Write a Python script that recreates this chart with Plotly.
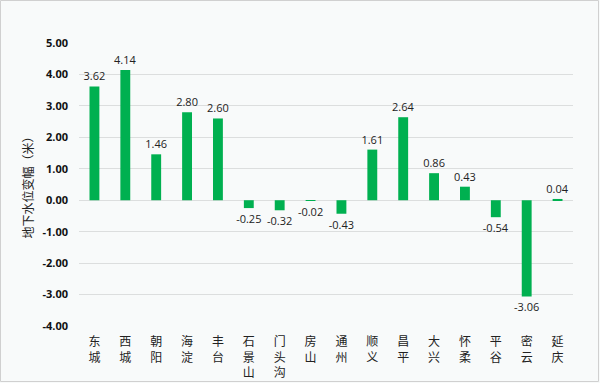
import plotly.graph_objects as go

districts = ["东城", "西城", "朝阳", "海淀", "丰台", "石景山", "门头沟", "房山", "通州",
             "顺义", "昌平", "大兴", "怀柔", "平谷", "密云", "延庆"]
values = [3.62, 4.14, 1.46, 2.80, 2.60, -0.25, -0.32, -0.02, -0.43,
          1.61, 2.64, 0.86, 0.43, -0.54, -3.06, 0.04]
y_ticks = [5, 4, 3, 2, 1, 0, -1, -2, -3, -4]

vertical = ["<br>".join(list(d)) for d in districts]

fig = go.Figure(go.Bar(
    x=vertical, y=values,
    marker=dict(color="#00b050", line=dict(width=0)),
    width=0.32,
    text=[f"{v:.2f}" for v in values],
    textposition="outside",
    constraintext="none",
    textfont=dict(family="Open Sans", size=11, color="#222"),
    cliponaxis=False,
))

fig.update_layout(
    width=600, height=383,
    margin=dict(l=79, r=27, t=43, b=57),
    paper_bgcolor="#f8fafa",
    plot_bgcolor="#f8fafa",
    showlegend=False,
    xaxis=dict(
        automargin=False,
        tickfont=dict(family="Noto Sans CJK SC", size=12, color="#222"),
        showgrid=False, zeroline=False, showline=False,
        ticks="", ticklabelstandoff=7,
    ),
    yaxis=dict(
        automargin=False,
        range=[-4, 5],
        tickvals=y_ticks,
        ticktext=[f"<b>{v:.2f}</b>" for v in y_ticks],
        tickfont=dict(family="Open Sans", size=11, color="#111"),
        showgrid=True, gridcolor="#dcdede", gridwidth=1,
        zeroline=True, zerolinecolor="#dcdede", zerolinewidth=1,
        ticks="", ticklabelstandoff=10,
        title=dict(text="地下水位变幅（米）",
                   font=dict(family="Noto Sans CJK SC", size=12, color="#222"),
                   standoff=6),
    ),
    shapes=[dict(type="rect", xref="paper", yref="paper",
                 x0=-78.5/494, x1=1+25.5/494, y0=-55.5/283, y1=1+42.5/283,
                 line=dict(color="#d0d0d0", width=1))],
)

fig.write_html("out.html", config={"displayModeBar": False},
               post_script="document.body.style.margin='0';")
